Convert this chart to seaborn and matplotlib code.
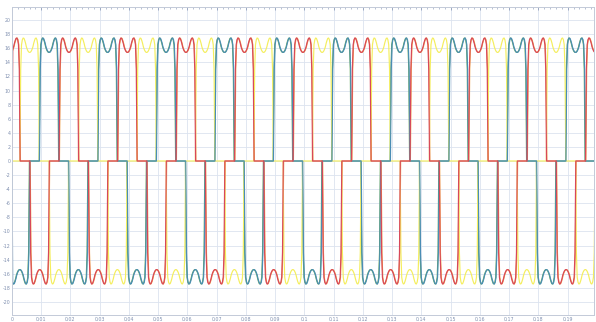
import numpy as np
import pandas as pd
import matplotlib
matplotlib.use("Agg")
import matplotlib.pyplot as plt
import seaborn as sns

# ---- data ----
period = 0.02                      # 50 Hz
t_end = 0.199
# start time of the positive 120-degree pulse of each phase
pulse_start = {"yellow": 0.0027, "blue": 0.0094, "red": 0.0161}
# positive pulse profile sampled every 5 degrees over 120 degrees
pulse_profile = [0.0, 13.0, 16.5, 17.2, 17.45, 17.4, 17.1, 16.7, 16.2, 15.85,
                 15.6, 15.45, 15.4, 15.45, 15.6, 15.85, 16.2, 16.7, 17.1,
                 17.4, 17.45, 17.2, 16.5, 13.0, 0.0]
step_deg = 5
zero_plateau = [0.0] * 11          # 60 degrees between pulses
# companion traces seen on the edges (green beside blue, orange beside red)
edge_shift = {"green": ("blue", -0.00012), "orange": ("red", 0.00012)}
xticks = [round(0.01 * i, 2) for i in range(20)]
yticks = list(range(-20, 21, 2))

colors = {"yellow": "#f4ee5e", "green": "#66a95e", "orange": "#f0a044",
          "blue": "#4a8db5", "red": "#d8475a"}

# ---- build one period template: +pulse, 0, -pulse, 0 ----
one_period = (pulse_profile + zero_plateau + [-v for v in pulse_profile]
              + zero_plateau)
n = len(one_period)
ang = np.array([i * step_deg for i in range(n)])
vals = np.array(one_period)

def phase_wave(start, shift=0.0):
    ts, vs = [], []
    for k in range(-2, 12):
        ts.append(start + k * period + ang / 360.0 * period + shift)
        vs.append(vals)
    ts = np.concatenate(ts)
    vs = np.concatenate(vs)
    m = (ts >= 0) & (ts <= t_end + 0.001)
    ts, vs = ts[m], vs[m]
    ts = np.concatenate([[0.0], ts])
    vs = np.concatenate([[0.0], vs])
    return ts, vs

frames = []
order = ["green", "orange", "yellow", "blue", "red"]
for name in order:
    if name in edge_shift:
        base, sh = edge_shift[name]
        ts, vs = phase_wave(pulse_start[base], sh)
    else:
        ts, vs = phase_wave(pulse_start[name])
    frames.append(pd.DataFrame({"t": ts, "v": vs, "series": name}))
df = pd.concat(frames, ignore_index=True)

sns.set_theme(style="white")
fig = plt.figure(figsize=(5.96, 3.22), dpi=100)
ax = fig.add_axes([12 / 596, 7 / 322, 582 / 596, 308 / 322])

for name in order:
    sub = df[df.series == name]
    sns.lineplot(data=sub, x="t", y="v", ax=ax, color=colors[name],
                 linewidth=0.85, sort=False, estimator=None, legend=False)

ax.set_xlim(0, t_end)
ax.set_ylim(-21.85, 21.85)
ax.set_xticks(xticks)
ax.set_xticklabels(["0" if x == 0 else f"{x:g}" for x in xticks])
ax.set_yticks(yticks)
ax.set_yticklabels([str(y) for y in yticks])
ax.set_xticks(np.arange(0, t_end, 0.002), minor=True)
ax.grid(True, which="major", color="#dce3ef", linewidth=0.6)
ax.set_axisbelow(True)
for s in ax.spines.values():
    s.set_color("#c3cad8")
    s.set_linewidth(0.7)
ax.tick_params(axis="both", which="major", labelsize=3.4, colors="#8090b0",
               length=2, width=0.5, pad=1.2, direction="in")
ax.tick_params(axis="x", which="minor", length=1.5, width=0.4,
               colors="#8090b0", direction="in", top=True)
ax.tick_params(axis="x", which="major", top=True)
ax.set_xlabel("")
ax.set_ylabel("")

fig.savefig("out.png", dpi=100)
